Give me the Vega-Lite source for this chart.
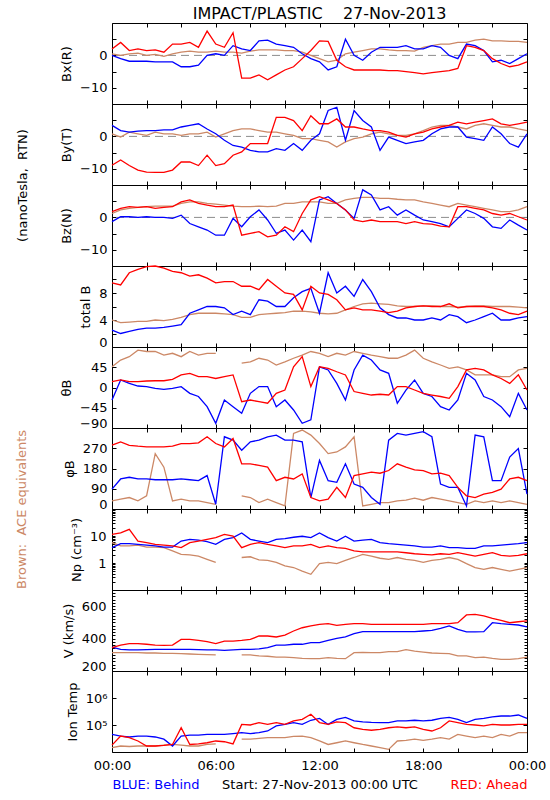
{
"$schema": "https://vega.github.io/schema/vega-lite/v6.json",
"background": "white",
"padding": {"left": 14, "top": 5, "right": 5, "bottom": 5},
"spacing": 0,
"bounds": "flush",
"config": {
  "font": "DejaVu Sans",
  "view": {"stroke": "black", "strokeWidth": 1},
  "axis": {"grid": false, "domain": false, "tickColor": "black", "labelColor": "black", "titleColor": "black", "labelFontSize": 13, "titleFontSize": 13, "titleFontWeight": "normal", "labelOverlap": false, "labelFlush": false, "tickSize": -4},
  "axisY": {"labelPadding": 9, "titlePadding": 6, "labelFlush": true, "labelFlushOffset": 2},
  "axisX": {"labelPadding": 11},
  "title": {"color": "black", "fontWeight": "normal"}
},
"datasets": {
"bx": [
{"h":0,"B":0,"R":2,"A":0.5},{"h":0.5,"B":-1,"R":4,"A":0},{"h":1,"B":-1.8,"R":1.5,"A":0.5},{"h":1.5,"B":-1.8,"R":2,"A":0.7},{"h":2,"B":-1.8,"R":1.5,"A":0},{"h":2.5,"B":-2,"R":1.7,"A":0.3},{"h":3,"B":-2,"R":1,"A":-0.3},{"h":3.5,"B":-2,"R":3.5,"A":0.5},{"h":4,"B":-3.5,"R":3.5,"A":1},{"h":4.5,"B":-3.5,"R":4,"A":1.3},{"h":5,"B":-3,"R":2.5,"A":1},{"h":5.5,"B":0,"R":7.5,"A":1},{"h":6,"B":0.5,"R":3.5,"A":1.3},{"h":6.5,"B":0,"R":2.5,"A":1},{"h":7,"B":3,"R":7,"A":1},{"h":7.5,"B":2,"R":-7,"A":0.7},{"h":8,"B":1.5,"R":-7,"A":1.3},{"h":8.5,"B":4.5,"R":-6,"A":1.7},{"h":9,"B":4.7,"R":-7.5,"A":1.7},{"h":9.5,"B":3.5,"R":-6,"A":1.7},{"h":10,"B":3,"R":-4.5,"A":1.5},{"h":10.5,"B":2.5,"R":-3.5,"A":1.5},{"h":11,"B":0.5,"R":-1,"A":1},{"h":11.5,"B":-1,"R":1.5,"A":0},{"h":12,"B":-2,"R":4.5,"A":-1},{"h":12.5,"B":-4.5,"R":4.3,"A":-2},{"h":13,"B":-3.5,"R":-1.5,"A":-1.5},{"h":13.5,"B":5,"R":-3.5,"A":0.5},{"h":14,"B":0,"R":-4.5,"A":1},{"h":14.5,"B":-1.5,"R":-4.5,"A":1.5},{"h":15,"B":1,"R":-4.5,"A":2},{"h":15.5,"B":2.5,"R":-4.5,"A":2},{"h":16,"B":2.5,"R":-4.7,"A":1.7},{"h":16.5,"B":2.5,"R":-4.7,"A":1.5},{"h":17,"B":3,"R":-5,"A":1.5},{"h":17.5,"B":2,"R":-5.3,"A":1.3},{"h":18,"B":2,"R":-5.7,"A":2.5},{"h":18.5,"B":3,"R":-5.3,"A":3},{"h":19,"B":2.5,"R":-5,"A":3.5},{"h":19.5,"B":0,"R":-4.7,"A":3.5},{"h":20,"B":-1,"R":-4,"A":4},{"h":20.5,"B":3.5,"R":3,"A":4},{"h":21,"B":3,"R":2.5,"A":4.7},{"h":21.5,"B":1.5,"R":1.5,"A":5},{"h":22,"B":-2,"R":-1,"A":4.5},{"h":22.5,"B":-1.5,"R":-2.5,"A":4.5},{"h":23,"B":-2.5,"R":-3.5,"A":4.3},{"h":23.5,"B":-1,"R":-3,"A":4.3},{"h":24,"B":0.5,"R":-2,"A":4}
],
"by": [
{"h":0,"B":3.4,"R":-8.9,"A":0.8},{"h":0.5,"B":1.8,"R":-7.3,"A":-0.2},{"h":1,"B":1.3,"R":-9,"A":1.3},{"h":1.5,"B":1.6,"R":-10.4,"A":0.8},{"h":2,"B":1.8,"R":-11,"A":0.3},{"h":2.5,"B":1.8,"R":-11.1,"A":1.3},{"h":3,"B":2,"R":-11.1,"A":0.8},{"h":3.5,"B":2,"R":-10.4,"A":0.8},{"h":4,"B":2.9,"R":-7.9,"A":0.3},{"h":4.5,"B":3.4,"R":-7.9,"A":0.8},{"h":5,"B":3.9,"R":-9,"A":0.8},{"h":5.5,"B":2.3,"R":-5.8,"A":1.3},{"h":6,"B":0.8,"R":-9,"A":-0.2},{"h":6.5,"B":-1.2,"R":-8.4,"A":0.8},{"h":7,"B":-2.8,"R":-5.8,"A":1.8},{"h":7.5,"B":-3.3,"R":-4.8,"A":2.3},{"h":8,"B":-4.3,"R":-2.2,"A":2.3},{"h":8.5,"B":-4.8,"R":-2.2,"A":1.8},{"h":9,"B":-4.8,"R":-2.2,"A":1.3},{"h":9.5,"B":-3.8,"R":5.9,"A":1.3},{"h":10,"B":-4.3,"R":5.9,"A":0.8},{"h":10.5,"B":-2.2,"R":4.9,"A":0.3},{"h":11,"B":-4.3,"R":1.8,"A":-0.7},{"h":11.5,"B":-1.2,"R":6.4,"A":-0.7},{"h":12,"B":0.8,"R":3.9,"A":-1.2},{"h":12.5,"B":8,"R":3.9,"A":-1.7},{"h":13,"B":9,"R":5.4,"A":-3.3},{"h":13.5,"B":-1.2,"R":2.9,"A":-1.7},{"h":14,"B":8,"R":2.9,"A":-0.7},{"h":14.5,"B":4.9,"R":2.3,"A":-0.2},{"h":15,"B":2.9,"R":1.8,"A":0.8},{"h":15.5,"B":-4.3,"R":1.8,"A":1.3},{"h":16,"B":-0.2,"R":1.3,"A":0.8},{"h":16.5,"B":-1.2,"R":0.3,"A":0.3},{"h":17,"B":-2.2,"R":-0.2,"A":0.3},{"h":17.5,"B":-1.7,"R":0.8,"A":0.8},{"h":18,"B":-1.2,"R":1.3,"A":1.8},{"h":18.5,"B":0.8,"R":2.3,"A":2.9},{"h":19,"B":2.3,"R":2.9,"A":3.4},{"h":19.5,"B":2.9,"R":3.4,"A":3.4},{"h":20,"B":2.9,"R":4.4,"A":2.9},{"h":20.5,"B":-0.2,"R":3.9,"A":2.3},{"h":21,"B":-0.7,"R":4.4,"A":3.4},{"h":21.5,"B":-1.2,"R":4.9,"A":3.9},{"h":22,"B":2.9,"R":5.4,"A":3.4},{"h":22.5,"B":0.8,"R":3.9,"A":2.9},{"h":23,"B":-2.2,"R":3.4,"A":2.9},{"h":23.5,"B":-3.3,"R":3.9,"A":2.3},{"h":24,"B":0.8,"R":4.4,"A":1.8}
],
"bz": [
{"h":0,"B":-1.3,"R":1.8,"A":1.2},{"h":0.5,"B":0.2,"R":2.8,"A":2.3},{"h":1,"B":0.2,"R":3.3,"A":2.8},{"h":1.5,"B":0,"R":3.1,"A":3.1},{"h":2,"B":0.2,"R":3.3,"A":3.3},{"h":2.5,"B":0,"R":2.8,"A":3.5},{"h":3,"B":0,"R":3.1,"A":3.5},{"h":3.5,"B":-0.3,"R":3.3,"A":3.5},{"h":4,"B":0.7,"R":4.8,"A":4.3},{"h":4.5,"B":-1.9,"R":5.4,"A":4.8},{"h":5,"B":-2.9,"R":4.3,"A":4.8},{"h":5.5,"B":-3.9,"R":3.8,"A":4.3},{"h":6,"B":-5.5,"R":3.3,"A":4.1},{"h":6.5,"B":-5.5,"R":3.3,"A":3.8},{"h":7,"B":-0.3,"R":3.8,"A":3.5},{"h":7.5,"B":-2.9,"R":-5.5,"A":3.3},{"h":8,"B":0.2,"R":-4.9,"A":3.3},{"h":8.5,"B":2.3,"R":-4.4,"A":3.5},{"h":9,"B":-0.8,"R":-6,"A":3.3},{"h":9.5,"B":-4.9,"R":-5.5,"A":3.5},{"h":10,"B":-3.9,"R":-2.9,"A":4.3},{"h":10.5,"B":-7,"R":-4.4,"A":4.3},{"h":11,"B":-3.9,"R":1.2,"A":4.8},{"h":11.5,"B":-7.5,"R":5.4,"A":4.8},{"h":12,"B":5.4,"R":6.4,"A":4.8},{"h":12.5,"B":6.4,"R":5.4,"A":4.3},{"h":13,"B":4.3,"R":4.3,"A":4.3},{"h":13.5,"B":2.3,"R":2.3,"A":5.4},{"h":14,"B":-0.3,"R":-0.8,"A":5.9},{"h":14.5,"B":8.5,"R":-1.3,"A":6.2},{"h":15,"B":6.9,"R":-0.8,"A":6.2},{"h":15.5,"B":2.3,"R":-1.3,"A":5.9},{"h":16,"B":3.3,"R":-1.3,"A":5.9},{"h":16.5,"B":0.7,"R":-1.3,"A":5.6},{"h":17,"B":2.3,"R":-1.9,"A":5.4},{"h":17.5,"B":0.7,"R":-1.3,"A":5.4},{"h":18,"B":-0.8,"R":-1.9,"A":4.8},{"h":18.5,"B":-1.3,"R":-2.1,"A":4.3},{"h":19,"B":-1.9,"R":-2.7,"A":3.8},{"h":19.5,"B":-2.9,"R":-2.9,"A":3.3},{"h":20,"B":-0.3,"R":3.3,"A":4.3},{"h":20.5,"B":2.3,"R":3.3,"A":3.8},{"h":21,"B":1.2,"R":2.8,"A":3.3},{"h":21.5,"B":-0.3,"R":2.3,"A":2.8},{"h":22,"B":-2.9,"R":1.2,"A":2.3},{"h":22.5,"B":-3.4,"R":0.7,"A":1.8},{"h":23,"B":-0.8,"R":1.2,"A":1.8},{"h":23.5,"B":-2.4,"R":0.2,"A":2.3},{"h":24,"B":-3.9,"R":-0.8,"A":3.3}
],
"bt": [
{"h":0,"B":2.5,"R":9.5,"A":4},{"h":0.5,"B":2,"R":9.2,"A":3.6},{"h":1,"B":2.3,"R":11,"A":3.7},{"h":1.5,"B":2.6,"R":11.5,"A":3.8},{"h":2,"B":2.8,"R":11.9,"A":3.8},{"h":2.5,"B":2.8,"R":12,"A":4},{"h":3,"B":2.9,"R":11.7,"A":3.9},{"h":3.5,"B":3.1,"R":11.2,"A":4.1},{"h":4,"B":3.3,"R":11,"A":4.4},{"h":4.5,"B":5,"R":10.5,"A":4.8},{"h":5,"B":5.5,"R":10.7,"A":5},{"h":5.5,"B":6,"R":10.2,"A":5},{"h":6,"B":6,"R":9.5,"A":5},{"h":6.5,"B":5.8,"R":9.7,"A":4.9},{"h":7,"B":4.8,"R":9.7,"A":4.8},{"h":7.5,"B":5.3,"R":9,"A":4.4},{"h":8,"B":4.8,"R":9,"A":4.4},{"h":8.5,"B":7,"R":8.5,"A":4.8},{"h":9,"B":6.8,"R":10,"A":4.9},{"h":9.5,"B":6,"R":9,"A":5},{"h":10,"B":6,"R":8,"A":5.1},{"h":10.5,"B":7.3,"R":7.8,"A":5.3},{"h":11,"B":8.2,"R":5.5,"A":5.3},{"h":11.5,"B":8.7,"R":9,"A":5.2},{"h":12,"B":5,"R":8,"A":5},{"h":12.5,"B":11,"R":7.8,"A":4.9},{"h":13,"B":8,"R":7,"A":5},{"h":13.5,"B":9,"R":5.5,"A":5.5},{"h":14,"B":7.5,"R":5.8,"A":6},{"h":14.5,"B":10,"R":5.5,"A":6.4},{"h":15,"B":8.2,"R":5.5,"A":6.5},{"h":15.5,"B":5.8,"R":5.3,"A":6.4},{"h":16,"B":4.8,"R":5.1,"A":6.3},{"h":16.5,"B":4.3,"R":5.3,"A":6.1},{"h":17,"B":4.3,"R":5.8,"A":6},{"h":17.5,"B":4,"R":6,"A":6},{"h":18,"B":4,"R":6.1,"A":6.1},{"h":18.5,"B":4.3,"R":6,"A":6.1},{"h":19,"B":4,"R":6,"A":6},{"h":19.5,"B":4.8,"R":6.4,"A":6},{"h":20,"B":4.5,"R":5.8,"A":5.9},{"h":20.5,"B":3.6,"R":6,"A":6},{"h":21,"B":4,"R":6,"A":6.1},{"h":21.5,"B":4.5,"R":6,"A":6.1},{"h":22,"B":5,"R":5.8,"A":6},{"h":22.5,"B":4,"R":5.5,"A":6},{"h":23,"B":4,"R":5,"A":6},{"h":23.5,"B":4.3,"R":4.8,"A":5.9},{"h":24,"B":4.5,"R":5.3,"A":5.8}
],
"th": [
{"h":0,"B":-27.8,"R":13,"A":46},{"h":0.5,"B":16.7,"R":16.7,"A":61},{"h":1,"B":9,"R":13,"A":68.5},{"h":1.5,"B":3.3,"R":13,"A":83},{"h":2,"B":1.9,"R":14.4,"A":80},{"h":2.5,"B":-1.8,"R":15,"A":80},{"h":3,"B":-4,"R":15,"A":72},{"h":3.5,"B":-2,"R":18,"A":76},{"h":4,"B":1.9,"R":28,"A":68.5},{"h":4.5,"B":-13,"R":31.5,"A":80},{"h":5,"B":-20,"R":24,"A":72},{"h":5.5,"B":-42.6,"R":24,"A":76},{"h":6,"B":-79.6,"R":20,"A":76},{"h":6.5,"B":-27.8,"R":24,"A":null},{"h":7,"B":-42.6,"R":28,"A":null},{"h":7.5,"B":-57.4,"R":-31.5,"A":54},{"h":8,"B":-13,"R":-27.8,"A":57},{"h":8.5,"B":2,"R":-31.5,"A":65},{"h":9,"B":2,"R":-35,"A":61},{"h":9.5,"B":-42.6,"R":-13,"A":50},{"h":10,"B":-27.8,"R":-5.6,"A":57},{"h":10.5,"B":-50,"R":46,"A":65},{"h":11,"B":-79.6,"R":68.5,"A":72},{"h":11.5,"B":-72,"R":2,"A":80},{"h":12,"B":46,"R":46,"A":76},{"h":12.5,"B":39,"R":42.6,"A":68.5},{"h":13,"B":9,"R":35,"A":76},{"h":13.5,"B":-27.8,"R":28,"A":72},{"h":14,"B":39,"R":-9,"A":80},{"h":14.5,"B":72,"R":-13,"A":76},{"h":15,"B":61,"R":-16.7,"A":72},{"h":15.5,"B":39,"R":-15,"A":68.5},{"h":16,"B":31.5,"R":-16.7,"A":65},{"h":16.5,"B":-35,"R":2,"A":65},{"h":17,"B":-5.6,"R":2,"A":72},{"h":17.5,"B":16.7,"R":-5.6,"A":83},{"h":18,"B":-13,"R":-13,"A":65},{"h":18.5,"B":-20,"R":-16.7,"A":57},{"h":19,"B":-42.6,"R":-20,"A":50},{"h":19.5,"B":-50,"R":-24,"A":42.6},{"h":20,"B":-27.8,"R":2,"A":46},{"h":20.5,"B":31.5,"R":39,"A":39},{"h":21,"B":16.7,"R":42.6,"A":28},{"h":21.5,"B":-20,"R":39,"A":28},{"h":22,"B":-27.8,"R":28,"A":28},{"h":22.5,"B":-42.6,"R":20,"A":24},{"h":23,"B":-65,"R":9,"A":24},{"h":23.5,"B":-13,"R":28,"A":39},{"h":24,"B":-50,"R":-5.6,"A":42.6}
],
"ph": [
{"h":0,"B":88.5,"R":283.5,"A":36},{"h":0.5,"B":133.5,"R":298.5,"A":43.5},{"h":1,"B":141,"R":283,"A":51},{"h":1.5,"B":133.5,"R":279,"A":36},{"h":2,"B":133.5,"R":276,"A":58.5},{"h":2.5,"B":130,"R":276,"A":246},{"h":3,"B":130,"R":276,"A":186},{"h":3.5,"B":130,"R":279,"A":36},{"h":4,"B":133.5,"R":291,"A":43.5},{"h":4.5,"B":130,"R":291,"A":36},{"h":5,"B":126,"R":294,"A":36},{"h":5.5,"B":148.5,"R":321,"A":28.5},{"h":6,"B":21,"R":291,"A":21},{"h":6.5,"B":321,"R":276,"A":null},{"h":7,"B":306,"R":313.5,"A":null},{"h":7.5,"B":261,"R":201,"A":58.5},{"h":8,"B":298.5,"R":201,"A":51},{"h":8.5,"B":306,"R":193.5,"A":28.5},{"h":9,"B":321,"R":186,"A":43.5},{"h":9.5,"B":328.5,"R":126,"A":28.5},{"h":10,"B":306,"R":141,"A":13.5},{"h":10.5,"B":306,"R":133.5,"A":336},{"h":11,"B":298.5,"R":156,"A":351},{"h":11.5,"B":51,"R":51,"A":328.5},{"h":12,"B":216,"R":36,"A":291},{"h":12.5,"B":126,"R":43.5,"A":246},{"h":13,"B":118.5,"R":96,"A":253.5},{"h":13.5,"B":201,"R":51,"A":276},{"h":14,"B":111,"R":148.5,"A":321},{"h":14.5,"B":96,"R":156,"A":13.5},{"h":15,"B":51,"R":163.5,"A":21},{"h":15.5,"B":21,"R":159,"A":28.5},{"h":16,"B":306,"R":171,"A":28.5},{"h":16.5,"B":336,"R":201,"A":36},{"h":17,"B":328.5,"R":186,"A":39},{"h":17.5,"B":336,"R":174,"A":48},{"h":18,"B":343.5,"R":171,"A":39},{"h":18.5,"B":321,"R":156,"A":51},{"h":19,"B":111,"R":159,"A":43.5},{"h":19.5,"B":96,"R":148.5,"A":36},{"h":20,"B":96,"R":96,"A":28.5},{"h":20.5,"B":13.5,"R":58.5,"A":21},{"h":21,"B":328.5,"R":51,"A":36},{"h":21.5,"B":321,"R":66,"A":28.5},{"h":22,"B":126,"R":73.5,"A":36},{"h":22.5,"B":126,"R":88.5,"A":28.5},{"h":23,"B":231,"R":133.5,"A":36},{"h":23.5,"B":268.5,"R":141,"A":28.5},{"h":24,"B":66,"R":126,"A":21}
],
"np": [
{"h":0,"B":3.7,"R":11.5,"A":5.7},{"h":0.5,"B":5.2,"R":13,"A":4.3},{"h":1,"B":5.2,"R":17.7,"A":4.3},{"h":1.5,"B":4.9,"R":6.5,"A":4.6},{"h":2,"B":4.6,"R":5.7,"A":3.9},{"h":2.5,"B":4.3,"R":4.9,"A":3.9},{"h":3,"B":3.9,"R":4.6,"A":3.7},{"h":3.5,"B":3.9,"R":4.3,"A":2.8},{"h":4,"B":6.5,"R":3.7,"A":2.1},{"h":4.5,"B":7.5,"R":5.7,"A":2},{"h":5,"B":7,"R":6.5,"A":1.8},{"h":5.5,"B":6.2,"R":7.5,"A":1.37},{"h":6,"B":4.9,"R":8.7,"A":1.05},{"h":6.5,"B":7.5,"R":11.5,"A":null},{"h":7,"B":8.7,"R":10,"A":null},{"h":7.5,"B":13,"R":3.7,"A":1.6},{"h":8,"B":7.5,"R":4.9,"A":1.7},{"h":8.5,"B":6.5,"R":5.7,"A":1.3},{"h":9,"B":5.7,"R":4.9,"A":1.25},{"h":9.5,"B":7.5,"R":4.3,"A":1.05},{"h":10,"B":8,"R":3.7,"A":0.78},{"h":10.5,"B":9,"R":4.3,"A":0.68},{"h":11,"B":9.8,"R":4.3,"A":0.5},{"h":11.5,"B":8.7,"R":4.9,"A":0.38},{"h":12,"B":13,"R":3.7,"A":0.95},{"h":12.5,"B":8.7,"R":4.3,"A":1.05},{"h":13,"B":6.5,"R":3.7,"A":0.95},{"h":13.5,"B":9.8,"R":3.5,"A":1.25},{"h":14,"B":6.5,"R":2.8,"A":1.6},{"h":14.5,"B":7,"R":2.6,"A":2.1},{"h":15,"B":7.5,"R":2.6,"A":1.8},{"h":15.5,"B":5.7,"R":2.6,"A":1.5},{"h":16,"B":5.2,"R":2.6,"A":1.37},{"h":16.5,"B":4.9,"R":2.6,"A":1.6},{"h":17,"B":4.6,"R":2.4,"A":1.37},{"h":17.5,"B":4.3,"R":2.2,"A":1.25},{"h":18,"B":3.9,"R":2.1,"A":1.05},{"h":18.5,"B":3.9,"R":2,"A":1.25},{"h":19,"B":4.3,"R":2.2,"A":1.37},{"h":19.5,"B":3.7,"R":2.1,"A":1.6},{"h":20,"B":3.7,"R":2.4,"A":1.37},{"h":20.5,"B":3.5,"R":2.1,"A":0.95},{"h":21,"B":3.5,"R":1.8,"A":0.68},{"h":21.5,"B":4.3,"R":2.1,"A":0.58},{"h":22,"B":4.3,"R":2.4,"A":0.68},{"h":22.5,"B":4.6,"R":1.9,"A":0.58},{"h":23,"B":4.9,"R":1.8,"A":0.5},{"h":23.5,"B":5.2,"R":1.9,"A":0.58},{"h":24,"B":5.7,"R":2.2,"A":0.68}
],
"vv": [
{"h":0,"B":348,"R":344,"A":313},{"h":0.5,"B":334,"R":360,"A":313},{"h":1,"B":330,"R":369,"A":313},{"h":1.5,"B":330,"R":369,"A":313},{"h":2,"B":332,"R":365,"A":311},{"h":2.5,"B":334,"R":360,"A":311},{"h":3,"B":334,"R":358,"A":309},{"h":3.5,"B":334,"R":360,"A":309},{"h":4,"B":334,"R":395,"A":307},{"h":4.5,"B":334,"R":395,"A":305},{"h":5,"B":332,"R":389,"A":303},{"h":5.5,"B":330,"R":381,"A":301},{"h":6,"B":330,"R":369,"A":299},{"h":6.5,"B":327,"R":385,"A":null},{"h":7,"B":330,"R":385,"A":null},{"h":7.5,"B":334,"R":389,"A":299},{"h":8,"B":334,"R":395,"A":299},{"h":8.5,"B":336,"R":416,"A":293},{"h":9,"B":344,"R":416,"A":291},{"h":9.5,"B":360,"R":410,"A":286},{"h":10,"B":360,"R":422,"A":286},{"h":10.5,"B":365,"R":447,"A":282},{"h":11,"B":365,"R":467,"A":278},{"h":11.5,"B":375,"R":478,"A":276},{"h":12,"B":375,"R":488,"A":276},{"h":12.5,"B":389,"R":492,"A":282},{"h":13,"B":402,"R":482,"A":278},{"h":13.5,"B":410,"R":488,"A":276},{"h":14,"B":430,"R":492,"A":313},{"h":14.5,"B":443,"R":492,"A":315},{"h":15,"B":443,"R":488,"A":313},{"h":15.5,"B":443,"R":488,"A":313},{"h":16,"B":443,"R":488,"A":319},{"h":16.5,"B":443,"R":488,"A":319},{"h":17,"B":443,"R":488,"A":332},{"h":17.5,"B":443,"R":488,"A":323},{"h":18,"B":447,"R":488,"A":317},{"h":18.5,"B":451,"R":492,"A":311},{"h":19,"B":463,"R":492,"A":309},{"h":19.5,"B":478,"R":492,"A":307},{"h":20,"B":457,"R":498,"A":293},{"h":20.5,"B":441,"R":546,"A":293},{"h":21,"B":441,"R":550,"A":282},{"h":21.5,"B":443,"R":540,"A":286},{"h":22,"B":498,"R":525,"A":278},{"h":22.5,"B":492,"R":513,"A":272},{"h":23,"B":488,"R":498,"A":272},{"h":23.5,"B":484,"R":504,"A":276},{"h":24,"B":472,"R":509,"A":286}
],
"tt": [
{"h":0,"B":45000,"R":18000,"A":14500},{"h":0.5,"B":39000,"R":39000,"A":16700},{"h":1,"B":36000,"R":34000,"A":16000},{"h":1.5,"B":39000,"R":25600,"A":16700},{"h":2,"B":39000,"R":16700,"A":16700},{"h":2.5,"B":36000,"R":16700,"A":16700},{"h":3,"B":30000,"R":17500,"A":18000},{"h":3.5,"B":16700,"R":19000,"A":19000},{"h":4,"B":39000,"R":79000,"A":18000},{"h":4.5,"B":42000,"R":19000,"A":16700},{"h":5,"B":42000,"R":20000,"A":16700},{"h":5.5,"B":45000,"R":22000,"A":19000},{"h":6,"B":45000,"R":25600,"A":20000},{"h":6.5,"B":45000,"R":24000,"A":null},{"h":7,"B":48000,"R":20000,"A":null},{"h":7.5,"B":52000,"R":105000,"A":30000},{"h":8,"B":48000,"R":100000,"A":30000},{"h":8.5,"B":52000,"R":123000,"A":32000},{"h":9,"B":60000,"R":105000,"A":34000},{"h":9.5,"B":93000,"R":123000,"A":34000},{"h":10,"B":105000,"R":105000,"A":34000},{"h":10.5,"B":123000,"R":141000,"A":38000},{"h":11,"B":105000,"R":162000,"A":39000},{"h":11.5,"B":150000,"R":250000,"A":34000},{"h":12,"B":175000,"R":123000,"A":25600},{"h":12.5,"B":105000,"R":105000,"A":19000},{"h":13,"B":162000,"R":130000,"A":22000},{"h":13.5,"B":190000,"R":123000,"A":25600},{"h":14,"B":141000,"R":79000,"A":22000},{"h":14.5,"B":130000,"R":69000,"A":19000},{"h":15,"B":125000,"R":64000,"A":16700},{"h":15.5,"B":123000,"R":69000,"A":14500},{"h":16,"B":123000,"R":79000,"A":12500},{"h":16.5,"B":141000,"R":85000,"A":25600},{"h":17,"B":141000,"R":79000,"A":27000},{"h":17.5,"B":150000,"R":85000,"A":30000},{"h":18,"B":141000,"R":69000,"A":27000},{"h":18.5,"B":150000,"R":60000,"A":30000},{"h":19,"B":175000,"R":79000,"A":34000},{"h":19.5,"B":190000,"R":141000,"A":30000},{"h":20,"B":162000,"R":123000,"A":45000},{"h":20.5,"B":123000,"R":105000,"A":39000},{"h":21,"B":162000,"R":100000,"A":34000},{"h":21.5,"B":175000,"R":93000,"A":39000},{"h":22,"B":200000,"R":105000,"A":34000},{"h":22.5,"B":215000,"R":100000,"A":45000},{"h":23,"B":215000,"R":100000,"A":39000},{"h":23.5,"B":235000,"R":105000,"A":52000},{"h":24,"B":175000,"R":105000,"A":52000}
]
},
"vconcat": [
{
 "width": 415, "height": 81,
 "title": {"text": "IMPACT/PLASTIC\u00a0\u00a0\u00a0\u00a027-Nov-2013", "fontSize": 16, "anchor": "middle", "frame": "group", "offset": -12, "baseline": "alphabetic"},
 "layer": [
  {"data": {"values": [{}]}, "mark": {"type": "rule", "strokeDash": [8, 5], "color": "#8c8c8c"}, "encoding": {"y": {"datum": 0, "type": "quantitative", "axis": null}}},
  {"data": {"name": "bx"}, "transform": [{"fold": ["A", "B", "R"], "as": ["s", "v"]}],
   "mark": {"type": "line", "strokeWidth": 1.3, "invalid": "break-paths-show-domains"},
   "encoding": {
    "x": {"field": "h", "type": "quantitative", "scale": {"domain": [0, 24], "nice": false, "zero": false}, "axis": {"orient": "bottom", "values": [0,2,4,6,8,10,12,14,16,18,20,22,24], "labels": false, "title": null}},
    "y": {"field": "v", "type": "quantitative", "scale": {"domain": [-15, 10], "nice": false, "zero": false}, "axis": {"orient": "left", "values": [-10, -5, 0, 5], "labelExpr": "datum.value == 0 ? '0' : datum.value == -10 ? '\u221210' : ''", "title": "Bx(R)"}},
    "color": {"field": "s", "type": "nominal", "scale": {"domain": ["A", "B", "R"], "range": ["#cc8866", "#0000ff", "#ff0000"]}, "legend": null}
   }},
  {"data": {"values": [{}]}, "mark": {"type": "point", "opacity": 0},
   "encoding": {
    "x": {"datum": 12, "type": "quantitative", "axis": {"orient": "top", "values": [0,2,4,6,8,10,12,14,16,18,20,22,24], "labels": false, "title": null}},
    "y": {"datum": 0, "type": "quantitative", "axis": {"orient": "right", "values": [-10, -5, 0, 5], "labels": false, "title": null}}
   }}
 ],
 "resolve": {"axis": {"x": "independent", "y": "independent"}}
},
{
 "width": 415, "height": 81,
 "layer": [
  {"data": {"values": [{}]}, "mark": {"type": "rule", "strokeDash": [8, 5], "color": "#8c8c8c"}, "encoding": {"y": {"datum": 0, "type": "quantitative", "axis": null}}},
  {"data": {"name": "by"}, "transform": [{"fold": ["A", "B", "R"], "as": ["s", "v"]}],
   "mark": {"type": "line", "strokeWidth": 1.3, "invalid": "break-paths-show-domains"},
   "encoding": {
    "x": {"field": "h", "type": "quantitative", "scale": {"domain": [0, 24], "nice": false, "zero": false}, "axis": {"orient": "bottom", "values": [0,2,4,6,8,10,12,14,16,18,20,22,24], "labels": false, "title": null}},
    "y": {"field": "v", "type": "quantitative", "scale": {"domain": [-15, 10], "nice": false, "zero": false}, "axis": {"orient": "left", "values": [-10, -5, 0, 5], "labelExpr": "datum.value == 0 ? '0' : datum.value == -10 ? '\u221210' : ''", "title": "By(T)"}},
    "color": {"field": "s", "type": "nominal", "scale": {"domain": ["A", "B", "R"], "range": ["#cc8866", "#0000ff", "#ff0000"]}, "legend": null}
   }},
  {"data": {"values": [{}]}, "mark": {"type": "point", "opacity": 0},
   "encoding": {
    "x": {"datum": 12, "type": "quantitative", "axis": {"orient": "top", "values": [0,2,4,6,8,10,12,14,16,18,20,22,24], "labels": false, "title": null}},
    "y": {"datum": 0, "type": "quantitative", "axis": {"orient": "right", "values": [-10, -5, 0, 5], "labels": false, "title": null}}
   }},
  {"data": {"values": [{}]}, "mark": {"type": "point", "opacity": 0},
   "encoding": {
    "x": {"datum": 12, "type": "quantitative", "axis": null},
    "y": {"datum": 0, "type": "quantitative", "axis": {"orient": "left", "ticks": false, "labels": false, "title": "(nanoTesla,\u00a0\u00a0RTN)", "titleX": -90, "titleY": 81, "titleAngle": 270, "titleAlign": "center", "titleBaseline": "middle"}}
   }}
 ],
 "resolve": {"axis": {"x": "independent", "y": "independent"}}
},
{
 "width": 415, "height": 81,
 "layer": [
  {"data": {"values": [{}]}, "mark": {"type": "rule", "strokeDash": [8, 5], "color": "#8c8c8c"}, "encoding": {"y": {"datum": 0, "type": "quantitative", "axis": null}}},
  {"data": {"name": "bz"}, "transform": [{"fold": ["A", "B", "R"], "as": ["s", "v"]}],
   "mark": {"type": "line", "strokeWidth": 1.3, "invalid": "break-paths-show-domains"},
   "encoding": {
    "x": {"field": "h", "type": "quantitative", "scale": {"domain": [0, 24], "nice": false, "zero": false}, "axis": {"orient": "bottom", "values": [0,2,4,6,8,10,12,14,16,18,20,22,24], "labels": false, "title": null}},
    "y": {"field": "v", "type": "quantitative", "scale": {"domain": [-15, 10], "nice": false, "zero": false}, "axis": {"orient": "left", "values": [-10, -5, 0, 5], "labelExpr": "datum.value == 0 ? '0' : datum.value == -10 ? '\u221210' : ''", "title": "Bz(N)"}},
    "color": {"field": "s", "type": "nominal", "scale": {"domain": ["A", "B", "R"], "range": ["#cc8866", "#0000ff", "#ff0000"]}, "legend": null}
   }},
  {"data": {"values": [{}]}, "mark": {"type": "point", "opacity": 0},
   "encoding": {
    "x": {"datum": 12, "type": "quantitative", "axis": {"orient": "top", "values": [0,2,4,6,8,10,12,14,16,18,20,22,24], "labels": false, "title": null}},
    "y": {"datum": 0, "type": "quantitative", "axis": {"orient": "right", "values": [-10, -5, 0, 5], "labels": false, "title": null}}
   }}
 ],
 "resolve": {"axis": {"x": "independent", "y": "independent"}}
},
{
 "width": 415, "height": 81,
 "layer": [
  {"data": {"name": "bt"}, "transform": [{"fold": ["A", "B", "R"], "as": ["s", "v"]}],
   "mark": {"type": "line", "strokeWidth": 1.3, "invalid": "break-paths-show-domains"},
   "encoding": {
    "x": {"field": "h", "type": "quantitative", "scale": {"domain": [0, 24], "nice": false, "zero": false}, "axis": {"orient": "bottom", "values": [0,2,4,6,8,10,12,14,16,18,20,22,24], "labels": false, "title": null}},
    "y": {"field": "v", "type": "quantitative", "scale": {"domain": [0, 12], "nice": false, "zero": false}, "axis": {"orient": "left", "values": [0, 2, 4, 6, 8, 10], "labelExpr": "datum.value % 4 == 0 ? datum.label : ''", "title": "total B"}},
    "color": {"field": "s", "type": "nominal", "scale": {"domain": ["A", "B", "R"], "range": ["#cc8866", "#0000ff", "#ff0000"]}, "legend": null}
   }},
  {"data": {"values": [{}]}, "mark": {"type": "point", "opacity": 0},
   "encoding": {
    "x": {"datum": 12, "type": "quantitative", "axis": {"orient": "top", "values": [0,2,4,6,8,10,12,14,16,18,20,22,24], "labels": false, "title": null}},
    "y": {"datum": 5, "type": "quantitative", "axis": {"orient": "right", "values": [0, 2, 4, 6, 8, 10], "labels": false, "title": null}}
   }}
 ],
 "resolve": {"axis": {"x": "independent", "y": "independent"}}
},
{
 "width": 415, "height": 81,
 "layer": [
  {"data": {"name": "th"}, "transform": [{"fold": ["A", "B", "R"], "as": ["s", "v"]}],
   "mark": {"type": "line", "strokeWidth": 1.3, "invalid": "break-paths-show-domains"},
   "encoding": {
    "x": {"field": "h", "type": "quantitative", "scale": {"domain": [0, 24], "nice": false, "zero": false}, "axis": {"orient": "bottom", "values": [0,2,4,6,8,10,12,14,16,18,20,22,24], "labels": false, "title": null}},
    "y": {"field": "v", "type": "quantitative", "scale": {"domain": [-90, 90], "nice": false, "zero": false}, "axis": {"orient": "left", "values": [-90, -45, 0, 45], "labelExpr": "datum.value < 0 ? '\u2212' + abs(datum.value) : '' + datum.value", "title": "\u03b8B"}},
    "color": {"field": "s", "type": "nominal", "scale": {"domain": ["A", "B", "R"], "range": ["#cc8866", "#0000ff", "#ff0000"]}, "legend": null}
   }},
  {"data": {"values": [{}]}, "mark": {"type": "point", "opacity": 0},
   "encoding": {
    "x": {"datum": 12, "type": "quantitative", "axis": {"orient": "top", "values": [0,2,4,6,8,10,12,14,16,18,20,22,24], "labels": false, "title": null}},
    "y": {"datum": 0, "type": "quantitative", "axis": {"orient": "right", "values": [-90, -45, 0, 45], "labels": false, "title": null}}
   }}
 ],
 "resolve": {"axis": {"x": "independent", "y": "independent"}}
},
{
 "width": 415, "height": 81,
 "layer": [
  {"data": {"name": "ph"}, "transform": [{"fold": ["A", "B", "R"], "as": ["s", "v"]}],
   "mark": {"type": "line", "strokeWidth": 1.3, "invalid": "break-paths-show-domains"},
   "encoding": {
    "x": {"field": "h", "type": "quantitative", "scale": {"domain": [0, 24], "nice": false, "zero": false}, "axis": {"orient": "bottom", "values": [0,2,4,6,8,10,12,14,16,18,20,22,24], "labels": false, "title": null}},
    "y": {"field": "v", "type": "quantitative", "scale": {"domain": [0, 360], "nice": false, "zero": false}, "axis": {"orient": "left", "values": [0, 90, 180, 270], "title": "\u03c6B"}},
    "color": {"field": "s", "type": "nominal", "scale": {"domain": ["A", "B", "R"], "range": ["#cc8866", "#0000ff", "#ff0000"]}, "legend": null}
   }},
  {"data": {"values": [{}]}, "mark": {"type": "point", "opacity": 0},
   "encoding": {
    "x": {"datum": 12, "type": "quantitative", "axis": {"orient": "top", "values": [0,2,4,6,8,10,12,14,16,18,20,22,24], "labels": false, "title": null}},
    "y": {"datum": 180, "type": "quantitative", "axis": {"orient": "right", "values": [0, 90, 180, 270], "labels": false, "title": null}}
   }},
  {"data": {"values": [{}]}, "mark": {"type": "point", "opacity": 0},
   "encoding": {
    "x": {"datum": 12, "type": "quantitative", "axis": null},
    "y": {"datum": 180, "type": "quantitative", "axis": {"orient": "left", "ticks": false, "labels": false, "title": "Brown:\u00a0\u00a0ACE\u00a0equivalents", "titleColor": "#cc8866", "titleX": -91, "titleY": 81, "titleAngle": 270, "titleAlign": "center", "titleBaseline": "middle"}}
   }}
 ],
 "resolve": {"axis": {"x": "independent", "y": "independent"}}
},
{
 "width": 415, "height": 81,
 "layer": [
  {"data": {"name": "np"}, "transform": [{"fold": ["A", "B", "R"], "as": ["s", "v"]}],
   "mark": {"type": "line", "strokeWidth": 1.3, "invalid": "break-paths-show-domains"},
   "encoding": {
    "x": {"field": "h", "type": "quantitative", "scale": {"domain": [0, 24], "nice": false, "zero": false}, "axis": {"orient": "bottom", "values": [0,2,4,6,8,10,12,14,16,18,20,22,24], "labels": false, "title": null}},
    "y": {"field": "v", "type": "quantitative", "scale": {"type": "log", "domain": [0.1, 100], "nice": false}, "axis": {"orient": "left", "values": [0.2,0.3,0.4,0.5,0.6,0.7,0.8,0.9,1,2,3,4,5,6,7,8,9,10,20,30,40,50,60,70,80,90], "labelExpr": "datum.value == 1 ? '1' : datum.value == 10 ? '10' : ''", "tickSize": -3, "title": "Np (cm\u207b\u00b3)"}},
    "color": {"field": "s", "type": "nominal", "scale": {"domain": ["A", "B", "R"], "range": ["#cc8866", "#0000ff", "#ff0000"]}, "legend": null}
   }},
  {"data": {"values": [{}]}, "mark": {"type": "point", "opacity": 0},
   "encoding": {
    "x": {"datum": 12, "type": "quantitative", "axis": {"orient": "top", "values": [0,2,4,6,8,10,12,14,16,18,20,22,24], "labels": false, "title": null}},
    "y": {"datum": 1, "type": "quantitative", "axis": {"orient": "right", "values": [0.2,0.3,0.4,0.5,0.6,0.7,0.8,0.9,1,2,3,4,5,6,7,8,9,10,20,30,40,50,60,70,80,90], "tickSize": -3, "labels": false, "title": null}}
   }}
 ],
 "resolve": {"axis": {"x": "independent", "y": "independent"}}
},
{
 "width": 415, "height": 81,
 "layer": [
  {"data": {"name": "vv"}, "transform": [{"fold": ["A", "B", "R"], "as": ["s", "v"]}],
   "mark": {"type": "line", "strokeWidth": 1.3, "invalid": "break-paths-show-domains"},
   "encoding": {
    "x": {"field": "h", "type": "quantitative", "scale": {"domain": [0, 24], "nice": false, "zero": false}, "axis": {"orient": "bottom", "values": [0,2,4,6,8,10,12,14,16,18,20,22,24], "labels": false, "title": null}},
    "y": {"field": "v", "type": "quantitative", "scale": {"domain": [200, 700], "nice": false, "zero": false}, "axis": {"orient": "left", "values": [200,220,240,260,280,300,320,340,360,380,400,420,440,460,480,500,520,540,560,580,600,620,640,660,680], "labelExpr": "datum.value % 200 == 0 ? datum.label : ''", "tickSize": -3, "title": "V (km/s)"}},
    "color": {"field": "s", "type": "nominal", "scale": {"domain": ["A", "B", "R"], "range": ["#cc8866", "#0000ff", "#ff0000"]}, "legend": null}
   }},
  {"data": {"values": [{}]}, "mark": {"type": "point", "opacity": 0},
   "encoding": {
    "x": {"datum": 12, "type": "quantitative", "axis": {"orient": "top", "values": [0,2,4,6,8,10,12,14,16,18,20,22,24], "labels": false, "title": null}},
    "y": {"datum": 400, "type": "quantitative", "axis": {"orient": "right", "values": [200,220,240,260,280,300,320,340,360,380,400,420,440,460,480,500,520,540,560,580,600,620,640,660,680], "tickSize": -3, "labels": false, "title": null}}
   }}
 ],
 "resolve": {"axis": {"x": "independent", "y": "independent"}}
},
{
 "width": 415, "height": 81,
 "layer": [
  {"data": {"name": "tt"}, "transform": [{"fold": ["A", "B", "R"], "as": ["s", "v"]}],
   "mark": {"type": "line", "strokeWidth": 1.3, "invalid": "break-paths-show-domains"},
   "encoding": {
    "x": {"field": "h", "type": "quantitative", "scale": {"domain": [0, 24], "nice": false, "zero": false}, "axis": {"orient": "bottom", "values": [0,2,4,6,8,10,12,14,16,18,20,22,24], "labelExpr": "datum.value % 6 == 0 ? (datum.value == 0 || datum.value == 24 ? '00:00' : (datum.value < 10 ? '0' : '') + datum.value + ':00') : ''", "title": "Start: 27-Nov-2013 00:00 UTC", "titleY": 36, "titleBaseline": "alphabetic"}},
    "y": {"field": "v", "type": "quantitative", "scale": {"type": "log", "domain": [10000, 10000000], "nice": false}, "axis": {"orient": "left", "values": [100000, 1000000], "labelExpr": "datum.value == 100000 ? '10\u2075' : '10\u2076'", "title": "Ion Temp"}},
    "color": {"field": "s", "type": "nominal", "scale": {"domain": ["A", "B", "R"], "range": ["#cc8866", "#0000ff", "#ff0000"]}, "legend": null}
   }},
  {"data": {"values": [{}]}, "mark": {"type": "point", "opacity": 0},
   "encoding": {
    "x": {"datum": 12, "type": "quantitative", "axis": {"orient": "top", "values": [0,2,4,6,8,10,12,14,16,18,20,22,24], "labels": false, "title": null}},
    "y": {"datum": 100000, "type": "quantitative", "axis": {"orient": "right", "values": [100000, 1000000], "labels": false, "title": null}}
   }},
  {"data": {"values": [{}]}, "mark": {"type": "point", "opacity": 0},
   "encoding": {
    "x": {"datum": 12, "type": "quantitative", "axis": {"orient": "bottom", "ticks": false, "labels": false, "title": "BLUE: Behind", "titleColor": "#0000ff", "titleX": 0, "titleY": 36, "titleAlign": "left", "titleAnchor": "start", "titleBaseline": "alphabetic"}},
    "y": {"datum": 100000, "type": "quantitative", "axis": null}
   }},
  {"data": {"values": [{}]}, "mark": {"type": "point", "opacity": 0},
   "encoding": {
    "x": {"datum": 12, "type": "quantitative", "axis": {"orient": "bottom", "ticks": false, "labels": false, "title": "RED: Ahead", "titleColor": "#ff0000", "titleX": 415, "titleY": 36, "titleAlign": "right", "titleAnchor": "end", "titleBaseline": "alphabetic"}},
    "y": {"datum": 100000, "type": "quantitative", "axis": null}
   }}
 ],
 "resolve": {"axis": {"x": "independent", "y": "independent"}}
}
]
}
